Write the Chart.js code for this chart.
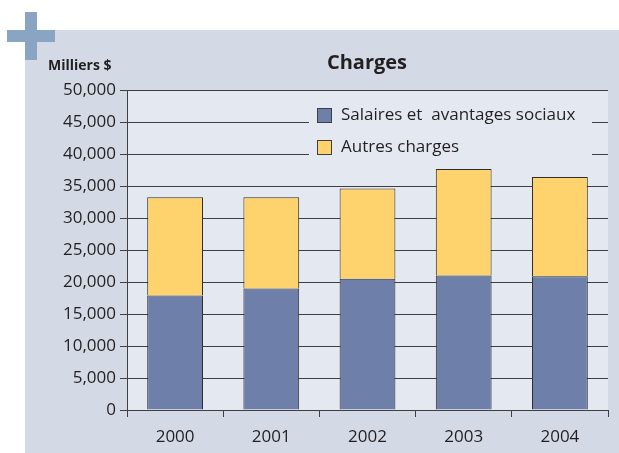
<!DOCTYPE html>
<html lang="fr">
<head>
  <meta charset="UTF-8">
  <title>Charges</title>
  <script src="https://cdn.jsdelivr.net/npm/chart.js"></script>
  <style>
    html, body { margin: 0; padding: 0; background: #fff; }
    #wrap { position: relative; width: 619px; height: 453px; }
  </style>
</head>
<body>
  <div id="wrap">
    <canvas id="chargesChart" width="619" height="453"></canvas>
  </div>

  <script>
    // data (thousands of $)
    const years = ['2000', '2001', '2002', '2003', '2004'];
    const salaires = [17900, 19000, 20500, 21000, 20900];
    const autres = [15350, 14250, 14100, 16650, 15500];

    const salairesLabel = 'Salaires et  avantages sociaux';
    const autresLabel = 'Autres charges';
    const titleText = 'Charges';
    const unitText = 'Milliers $';

    const FONT = '"Open Sans", "Noto Sans", sans-serif';
    const TEXT = '#231f20';
    const LINE = '#3f3f3f';

    // panel, plus sign, plot background, title and inline legend
    const decor = {
      id: 'decor',
      beforeDraw(chart) {
        const ctx = chart.ctx;
        const a = chart.chartArea;
        ctx.save();
        ctx.fillStyle = '#d3dae6';
        ctx.fillRect(25, 30, chart.width - 25, chart.height - 30);
        ctx.fillStyle = '#8aa4c3';
        ctx.fillRect(7, 30, 48, 12);
        ctx.fillRect(25, 12, 12, 48);
        ctx.fillStyle = '#e4e8f0';
        ctx.fillRect(a.left, a.top, a.right - a.left, a.bottom - a.top);

        ctx.fillStyle = TEXT;
        ctx.textBaseline = 'alphabetic';
        ctx.textAlign = 'center';
        ctx.font = 'bold 20px ' + FONT;
        ctx.fillText(titleText, 367, 69);
        ctx.textAlign = 'left';
        ctx.font = 'bold 14px ' + FONT;
        ctx.fillText(unitText, 48, 70);
        ctx.restore();
      },
      afterDatasetsDraw(chart) {
        const ctx = chart.ctx;
        ctx.save();
        ctx.fillStyle = '#e4e8f0';
        ctx.fillRect(309, 100, 283, 62);
        const items = chart.data.datasets;
        items.forEach((ds, i) => {
          const y = 108 + i * 32;
          ctx.fillStyle = ds.backgroundColor;
          ctx.fillRect(317, y, 15, 15);
          ctx.strokeStyle = LINE;
          ctx.lineWidth = 1;
          ctx.strokeRect(317.5, y + 0.5, 14, 14);
          ctx.fillStyle = TEXT;
          ctx.font = '17px ' + FONT;
          ctx.textBaseline = 'middle';
          ctx.textAlign = 'left';
          ctx.fillText(ds.label, 341, y + 7);
        });
        ctx.restore();
      }
    };

    new Chart(document.getElementById('chargesChart'), {
      type: 'bar',
      data: {
        labels: years,
        datasets: [
          { label: salairesLabel, data: salaires, backgroundColor: '#6e80aa',
            borderColor: '#2e2e2e', borderWidth: 1, barPercentage: 0.58, categoryPercentage: 1 },
          { label: autresLabel, data: autres, backgroundColor: '#fed36e',
            borderColor: '#2e2e2e', borderWidth: 1, barPercentage: 0.58, categoryPercentage: 1 }
        ]
      },
      options: {
        responsive: false,
        animation: false,
        layout: { padding: { left: 0, right: 11, top: 90, bottom: 0 } },
        plugins: {
          legend: { display: false },
          title: { display: false },
          tooltip: { enabled: false }
        },
        scales: {
          x: {
            stacked: true,
            offset: true,
            afterFit(scale) { scale.height = 43; },
            grid: { offset: true, drawOnChartArea: false, drawTicks: true, tickLength: 7, color: LINE },
            border: { display: true, color: LINE, width: 1 },
            ticks: { color: TEXT, font: { family: FONT, size: 17 }, padding: 10 }
          },
          y: {
            stacked: true,
            min: 0,
            max: 50000,
            afterFit(scale) { scale.width = 127; },
            grid: { color: LINE, drawTicks: true, tickLength: 7, lineWidth: 1 },
            border: { display: true, color: LINE, width: 1 },
            ticks: {
              stepSize: 5000,
              color: TEXT,
              padding: 4,
              font: { family: FONT, size: 17 },
              callback: v => v.toLocaleString('en-US')
            }
          }
        }
      },
      plugins: [decor]
    });
  </script>
</body>
</html>
